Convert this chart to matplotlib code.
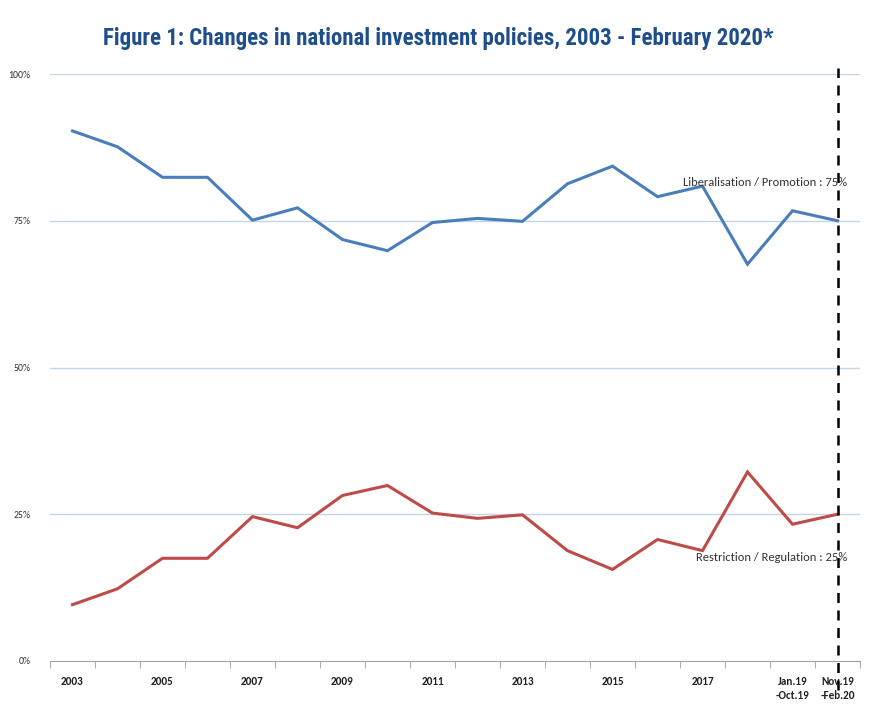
import matplotlib
matplotlib.use("Agg")
import matplotlib.pyplot as plt
from matplotlib.ticker import FixedLocator

categories = ["2003", "2004", "2005", "2006", "2007", "2008", "2009", "2010", "2011",
              "2012", "2013", "2014", "2015", "2016", "2017", "2018",
              "Jan.19\n-Oct.19", "Nov.19\n-Feb.20"]
shown_labels = ["2003", "", "2005", "", "2007", "", "2009", "", "2011", "", "2013", "",
                "2015", "", "2017", "", "Jan.19\n-Oct.19", "Nov.19\n-Feb.20"]
liberalisation = [90.3, 87.6, 82.4, 82.4, 75.1, 77.2, 71.8, 69.9, 74.7, 75.4, 74.9,
                  81.3, 84.3, 79.1, 80.9, 67.6, 76.7, 75.0]
restriction = [9.6, 12.3, 17.5, 17.5, 24.6, 22.7, 28.2, 29.9, 25.2, 24.3, 24.9,
               18.8, 15.6, 20.7, 18.8, 32.2, 23.3, 25.0]

fig = plt.figure(figsize=(8.76, 7.06), dpi=100)
ax = fig.add_axes([50/876, 1-661/706, 810/876, 587/706])

x = list(range(len(categories)))
ax.plot(x, liberalisation, color="#4a7ebb", lw=2.2, solid_joinstyle="miter")
ax.plot(x, restriction, color="#be4b48", lw=2.2, solid_joinstyle="miter")

ax.set_xlim(-0.5, len(categories) - 0.5)
ax.set_ylim(0, 100)
ax.set_yticks([0, 25, 50, 75, 100])
ax.set_yticklabels(["0%", "25%", "50%", "75%", "100%"], fontsize=7, family="Carlito",
                   color="#333333")
ax.set_xticks(x)
ax.set_xticklabels(shown_labels, fontsize=8, family="Carlito", color="#222222",
                   fontweight="bold", linespacing=1.3)
ax.xaxis.set_minor_locator(FixedLocator([i - 0.5 for i in range(len(categories) + 1)]))
ax.tick_params(axis="x", which="major", length=0, pad=11)
ax.tick_params(axis="x", which="minor", length=5, color="#a0a0a0", direction="out")
ax.tick_params(axis="y", length=0, pad=14)

for y in [25, 50, 75, 100]:
    ax.axhline(y, color="#c5d6ea", lw=1, zorder=0)

for s in ["top", "right", "left"]:
    ax.spines[s].set_visible(False)
ax.spines["bottom"].set_color("#a0a0a0")

ax.plot([17, 17], [-5, 101], color="black", lw=1.8, ls=(0, (4, 3)), clip_on=False)

ax.text(17.22, 81.5, "Liberalisation / Promotion : 75%", ha="right", va="center",
        fontsize=9, family="Carlito", color="#333333")
ax.text(17.22, 17.6, "Restriction / Regulation : 25%", ha="right", va="center",
        fontsize=9, family="Carlito", color="#333333")

fig.text(0.5, 1 - 38/706, "Figure 1: Changes in national investment policies, 2003 - February 2020*",
         ha="center", va="center", fontsize=16.5, fontweight="bold",
         family="Roboto Condensed", color="#1f4e8c")

fig.savefig("out.png", dpi=100)
